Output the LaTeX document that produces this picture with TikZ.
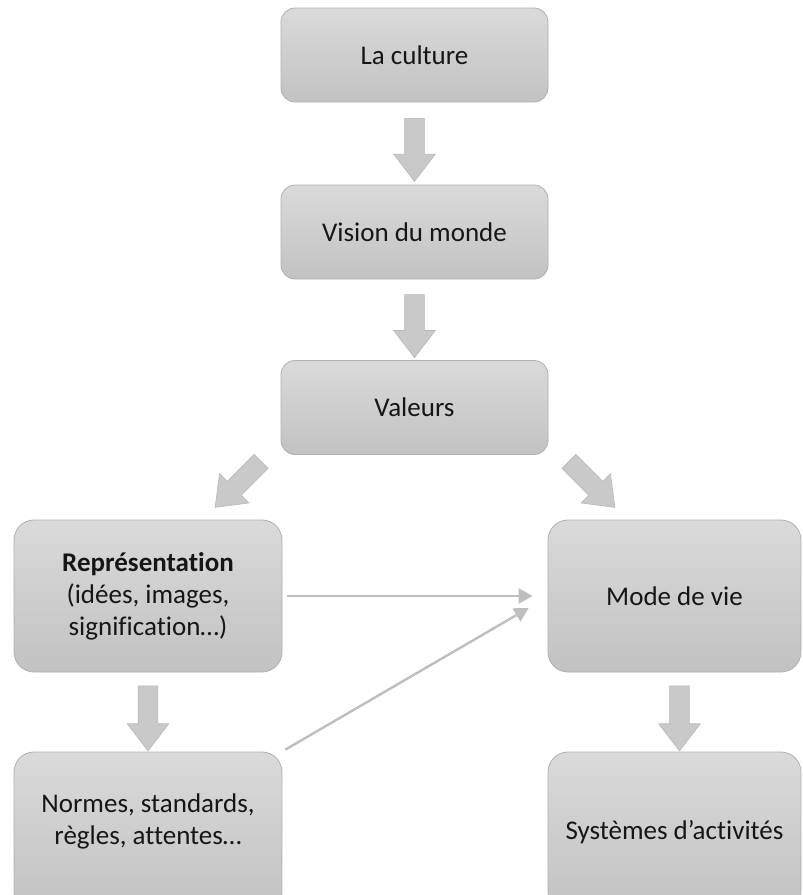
\documentclass[tikz,border=0pt]{standalone}
\usepackage{fontspec}
\setmainfont{Carlito}[Ligatures=NoCommon]
\usetikzlibrary{shapes.arrows,arrows.meta,calc}

\definecolor{boxtop}{HTML}{DADADA}
\definecolor{boxbot}{HTML}{C2C2C2}
\definecolor{boxline}{HTML}{B0B0B0}
\definecolor{arrowfill}{HTML}{C9C9C9}
\definecolor{arrowline}{HTML}{B8B8B8}
\definecolor{linkgray}{HTML}{BEBEBE}
\definecolor{ink}{HTML}{161616}

\begin{document}
\begin{tikzpicture}[x=1pt,y=-1pt,
  stage/.style={draw=boxline, line width=0.8pt, top color=boxtop, bottom color=boxbot,
    rounded corners=14pt, inner sep=0pt, align=center, text=ink,
    font=\fontsize{27}{32}\selectfont},
  small/.style={stage, minimum width=267pt, minimum height=94pt},
  big/.style={stage, rounded corners=20pt, minimum width=268pt, minimum height=152pt},
  flow/.style={single arrow, draw=arrowline, fill=arrowfill, line width=0.6pt,
    minimum height=63pt, inner xsep=0pt, inner ysep=9.5pt,
    single arrow head extend=11pt, single arrow tip angle=75},
  link/.style={draw=linkgray, line width=2.4pt, -{Triangle[length=14pt,width=15pt]}}
]
\useasboundingbox (0,0) rectangle (803,895);
\clip (0,0) rectangle (803,895);

% central column
\node[small] (cult) at (414.5,55)  {La culture};
\node[small] (vis)  at (414.5,232) {Vision du monde};
\node[small] (val)  at (414.5,407.5) {Valeurs};

% two branches
\node[big] (rep)  at (148,596) {\textbf{Représentation}\\(idées, images,\\signification…)};
\node[big, minimum width=253pt] (mode) at (674.5,596) {Mode de vie};
\node[big, minimum height=160pt, align=none] (norm) at (148,832)
  {\raisebox{10pt}[\height][\depth]{\begin{tabular}{@{}c@{}}Normes, standards,\\ règles, attentes…\end{tabular}}};
\node[big, minimum width=253pt, minimum height=160pt] (sys) at (674.5,832) {Systèmes d’activités};

% block arrows
\node[flow, rotate=-90] (f1) at ($(cult.south)!0.5!(vis.north)$) {};
\node[flow, rotate=-90] (f2) at ($(vis.south)!0.5!(val.north)$) {};
\node[flow, minimum height=65pt, rotate=-135] (f3) at ($(val.south west)+(-38,25)$) {};
\node[flow, minimum height=65pt, rotate=-45]  (f4) at ($(val.south east)+(39,25)$) {};
\node[flow, minimum height=65pt, rotate=-90] (f5) at ($(rep.south)!0.5!(norm.north)$) {};
\node[flow, minimum height=65pt, rotate=-90] (f6) at ($(mode.south)!0.5!(sys.north)+(5,0)$) {};

% thin links into the way of life
\draw[link] ([xshift=5pt]rep.east) -- ([xshift=-15pt]mode.west);
\draw[link] ([shift={(3,-2)}]norm.north east) -- ([shift={(-19,12)}]mode.west);
\end{tikzpicture}
\end{document}
